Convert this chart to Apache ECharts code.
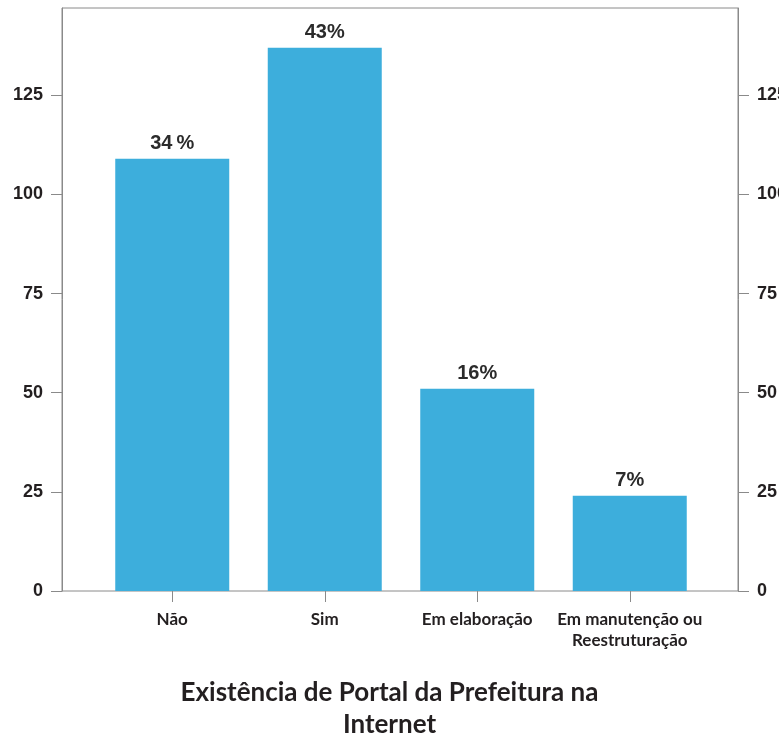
<!DOCTYPE html>
<html>
<head>
<meta charset="utf-8">
<script src="https://cdn.jsdelivr.net/npm/echarts@6/dist/echarts.min.js"></script>
<style>
  html, body { margin: 0; padding: 0; background: #fff; }
  #chart { width: 779px; height: 734px; }
</style>
</head>
<body>
<div id="chart"></div>
<script>
  // dados do grafico
  var categorias = ['Não', 'Sim', 'Em elaboração', 'Em manutenção ou\nReestruturação'];
  var valores = [109, 137, 51, 24];
  var rotulos = ['34\u2009%', '43%', '16%', '7%'];
  var titulo = 'Existência de Portal da Prefeitura na\nInternet';

  var myChart = echarts.init(document.getElementById('chart'));
  var cinza = '#8a8a8a';
  var texto = '#231f20';

  var option = {
    backgroundColor: '#fff',
    animation: false,
    title: {
      text: titulo,
      left: 'center',
      top: 672,
      textStyle: {
        fontFamily: 'Lato',
        fontWeight: 'bold',
        fontSize: 26,
        lineHeight: 32,
        color: texto
      }
    },
    grid: [
      // moldura com os eixos
      { left: 62, right: 41, top: 8, bottom: 143, show: true, borderColor: cinza, borderWidth: 1,
        backgroundColor: 'transparent', outerBoundsMode: 'none', containLabel: false },
      // barras
      { left: 96, right: 73, top: 8, bottom: 143, outerBoundsMode: 'none', containLabel: false }
    ],
    xAxis: [
      { gridIndex: 0, type: 'value', show: false, min: 0, max: 1 },
      {
        gridIndex: 1,
        type: 'category',
        data: categorias,
        axisLine: { show: false },
        axisTick: { show: true, alignWithLabel: true, length: 11, lineStyle: { color: cinza } },
        axisLabel: {
          interval: 0,
          margin: 18,
          fontFamily: 'Lato',
          fontWeight: 'bold',
          fontSize: 17,
          lineHeight: 21,
          color: texto
        }
      }
    ],
    yAxis: [
      {
        gridIndex: 0, type: 'value', position: 'left', min: 0, max: 147, interval: 25,
        axisLine: { show: true, lineStyle: { color: cinza } },
        axisTick: { show: true, length: 11, lineStyle: { color: cinza } },
        splitLine: { show: false },
        axisLabel: { showMaxLabel: false, margin: 19, fontFamily: 'Liberation Sans', fontWeight: 'bold', fontSize: 18, color: texto }
      },
      {
        gridIndex: 0, type: 'value', position: 'right', min: 0, max: 147, interval: 25,
        axisLine: { show: true, lineStyle: { color: cinza } },
        axisTick: { show: true, length: 11, lineStyle: { color: cinza } },
        splitLine: { show: false },
        axisLabel: { showMaxLabel: false, margin: 19, fontFamily: 'Liberation Sans', fontWeight: 'bold', fontSize: 18, color: texto }
      },
      { gridIndex: 1, type: 'value', min: 0, max: 147, show: false }
    ],
    series: [
      {
        type: 'bar',
        xAxisIndex: 1,
        yAxisIndex: 2,
        data: valores,
        barWidth: 114,
        itemStyle: { color: '#3daedc' },
        label: {
          show: true,
          position: 'top',
          distance: 5,
          fontFamily: 'Liberation Sans',
          fontWeight: 'bold',
          fontSize: 20,
          color: '#2b2b2b',
          formatter: function (p) { return rotulos[p.dataIndex]; }
        }
      }
    ]
  };

  if (option && typeof option === 'object') {
    myChart.setOption(option, true);
  }
</script>
</body>
</html>
